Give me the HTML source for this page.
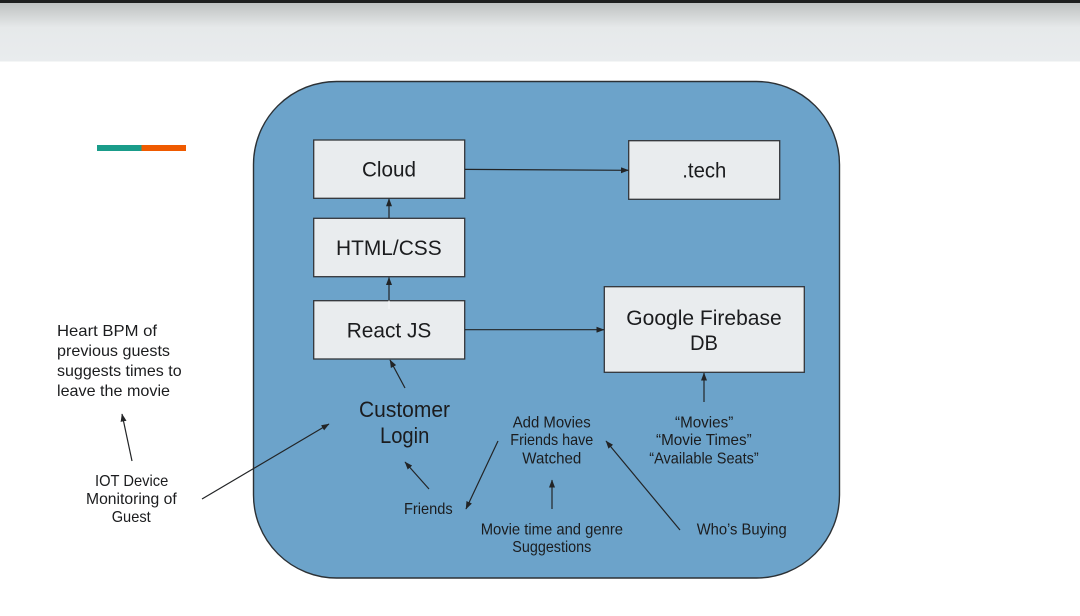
<!DOCTYPE html>
<html>
<head>
<meta charset="utf-8">
<style>
html,body{margin:0;padding:0;background:#fff;width:1080px;height:616px;overflow:hidden}
svg{display:block}
text{font-family:"Liberation Sans",sans-serif;fill:#1b1c1e}
.s{font-size:16px}
.b{font-size:21.5px}
.c{font-size:22.5px}
.box{fill:#e9ecee;stroke:#33363a;stroke-width:1.3}
.l{stroke:#222426;stroke-width:1.2;fill:none;marker-end:url(#a)}
</style>
</head>
<body>
<svg width="1080" height="616" viewBox="0 0 1080 616" xmlns="http://www.w3.org/2000/svg">
<defs>
<linearGradient id="g" x1="0" y1="0" x2="0" y2="1">
<stop offset="0" stop-color="#bfc2c2"/>
<stop offset="0.15" stop-color="#cdd0d0"/>
<stop offset="0.42" stop-color="#e6e9ea"/>
<stop offset="1" stop-color="#e9ecee"/>
</linearGradient>
<marker id="a" markerUnits="userSpaceOnUse" markerWidth="8" markerHeight="6" refX="7.5" refY="3" orient="auto">
<path d="M0 0L8 3L0 6Z" fill="#222426"/>
</marker>
</defs>
<rect x="0" y="0" width="1080" height="616" fill="#fff"/>
<rect x="0" y="3" width="1080" height="58.5" fill="url(#g)"/>
<rect x="0" y="0" width="1080" height="3" fill="#1e1f1f"/>
<rect x="97" y="145" width="45" height="6" fill="#1a9c8a"/>
<rect x="141.5" y="145" width="44.5" height="6" fill="#ef5a00"/>

<rect x="253.5" y="81.5" width="586" height="496.5" rx="83" ry="83" fill="#6ca3ca" stroke="#2c3135" stroke-width="1.4"/>

<rect class="box" x="313.7" y="140" width="151" height="58.3"/>
<rect class="box" x="628.7" y="140.7" width="151" height="58.6"/>
<rect class="box" x="313.7" y="218.3" width="151" height="58.4"/>
<rect class="box" x="313.7" y="300.7" width="151" height="58.3"/>
<rect class="box" x="604.3" y="286.7" width="200" height="85.6"/>

<text class="b" x="362" y="176.7" textLength="54" lengthAdjust="spacingAndGlyphs">Cloud</text>
<text class="b" x="682.3" y="177.7" textLength="44" lengthAdjust="spacingAndGlyphs">.tech</text>
<text class="b" x="336" y="255" textLength="105.7" lengthAdjust="spacingAndGlyphs">HTML/CSS</text>
<text class="b" x="346.7" y="337.7" textLength="84.6" lengthAdjust="spacingAndGlyphs">React JS</text>
<text class="b" x="626.3" y="325" textLength="155.4" lengthAdjust="spacingAndGlyphs">Google Firebase</text>
<text class="b" x="690" y="350" textLength="28" lengthAdjust="spacingAndGlyphs">DB</text>

<text class="s" x="57" y="336" textLength="100" lengthAdjust="spacingAndGlyphs">Heart BPM of</text>
<text class="s" x="57" y="356" textLength="113" lengthAdjust="spacingAndGlyphs">previous guests</text>
<text class="s" x="57" y="376" textLength="124.6" lengthAdjust="spacingAndGlyphs">suggests times to</text>
<text class="s" x="57" y="396" textLength="113" lengthAdjust="spacingAndGlyphs">leave the movie</text>

<text class="s" x="95" y="486" textLength="73.3" lengthAdjust="spacingAndGlyphs">IOT Device</text>
<text class="s" x="86" y="504" textLength="90.7" lengthAdjust="spacingAndGlyphs">Monitoring of</text>
<text class="s" x="111.7" y="522" textLength="39" lengthAdjust="spacingAndGlyphs">Guest</text>

<text class="c" x="359" y="417" textLength="91" lengthAdjust="spacingAndGlyphs">Customer</text>
<text class="c" x="380" y="443" textLength="49.3" lengthAdjust="spacingAndGlyphs">Login</text>

<text class="s" x="404" y="514" textLength="48.7" lengthAdjust="spacingAndGlyphs">Friends</text>

<text class="s" x="512.7" y="427.5" textLength="78" lengthAdjust="spacingAndGlyphs">Add Movies</text>
<text class="s" x="510.3" y="445" textLength="83" lengthAdjust="spacingAndGlyphs">Friends have</text>
<text class="s" x="522.3" y="463.5" textLength="59" lengthAdjust="spacingAndGlyphs">Watched</text>

<text class="s" x="675" y="427.5" textLength="58.3" lengthAdjust="spacingAndGlyphs">“Movies”</text>
<text class="s" x="656" y="445" textLength="95.7" lengthAdjust="spacingAndGlyphs">“Movie Times”</text>
<text class="s" x="649.3" y="463.5" textLength="109.4" lengthAdjust="spacingAndGlyphs">“Available Seats”</text>

<text class="s" x="480.7" y="534.3" textLength="142.3" lengthAdjust="spacingAndGlyphs">Movie time and genre</text>
<text class="s" x="512.3" y="552" textLength="79" lengthAdjust="spacingAndGlyphs">Suggestions</text>
<text class="s" x="696.7" y="534.3" textLength="90" lengthAdjust="spacingAndGlyphs">Who’s Buying</text>

<path class="l" d="M465 169.4L628.5 170.3"/>
<path class="l" d="M389 218L389 198.8"/>
<path class="l" d="M389 300.5L389 277.5"/>
<path d="M389 300.5L389 309" stroke="#f4f6f7" stroke-width="1.2" fill="none"/>
<path class="l" d="M465 329.7L604 329.7"/>
<path class="l" d="M405 388L390 360"/>
<path class="l" d="M429 489L405 462"/>
<path class="l" d="M132 461L122 414"/>
<path class="l" d="M202 499L329 424"/>
<path class="l" d="M498 441L466 509"/>
<path class="l" d="M552 509L552 480"/>
<path class="l" d="M680 530L606 441"/>
<path class="l" d="M704 402L704 373"/>
</svg>
</body>
</html>
